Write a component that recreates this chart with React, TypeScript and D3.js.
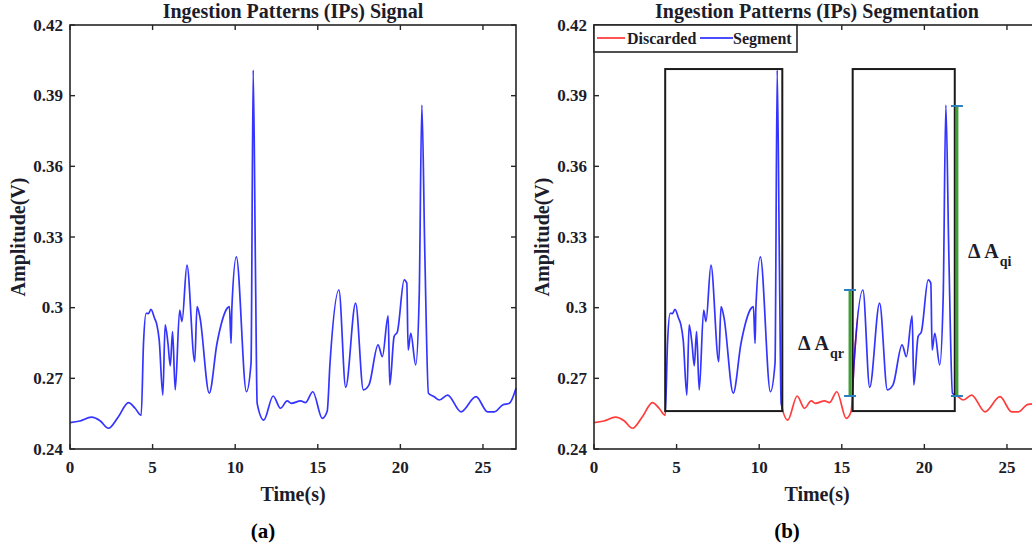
import React from "react";
import * as d3 from "d3";

// signal (seconds, volts)
const time = [
  0.0, 0.6, 1.3, 1.82, 2.33, 2.93, 3.54, 3.94, 4.31, 4.45, 4.61, 4.75, 4.9, 5.12, 5.26, 5.4,
  5.62, 5.76, 5.93, 6.07, 6.21, 6.37, 6.64, 6.78, 7.08, 7.55, 7.69, 7.86, 8.43, 8.9, 9.51,
  9.65, 9.75, 9.8, 10.07, 10.68, 10.96, 11.09, 11.23, 11.33, 11.73, 12.3, 12.74, 13.15,
  13.4, 13.96, 14.26, 14.7, 15.27, 15.57, 15.74, 16.28, 16.69, 17.29, 17.76, 18.1, 18.65,
  18.91, 19.26, 19.36, 19.62, 19.82, 20.23, 20.39, 20.47, 20.63, 20.93, 21.14, 21.3, 21.48,
  21.7, 22.05, 22.35, 22.86, 23.67, 24.58, 25.28, 25.69, 26.19, 26.6, 27.0,
];
const amplitude = [
  0.2512, 0.2519, 0.2535, 0.252, 0.2488, 0.2537, 0.2597, 0.2573, 0.2543, 0.2849, 0.2976,
  0.2975, 0.2993, 0.2955, 0.2927, 0.2863, 0.2629, 0.2927, 0.2849, 0.2753, 0.2898, 0.2651,
  0.299, 0.2941, 0.3181, 0.2771, 0.3004, 0.2962, 0.2637, 0.2849, 0.2997, 0.3005, 0.2849,
  0.3, 0.3216, 0.2643, 0.2765, 0.4009, 0.3146, 0.2594, 0.2523, 0.2625, 0.2573, 0.2604,
  0.2594, 0.2604, 0.2597, 0.2643, 0.253, 0.256, 0.2764, 0.3075, 0.2662, 0.3019, 0.2651,
  0.2672, 0.2842, 0.2792, 0.2965, 0.2672, 0.2877, 0.2898, 0.3118, 0.3104, 0.282, 0.2891,
  0.2757, 0.3047, 0.386, 0.3231, 0.2637, 0.2622, 0.2608, 0.2629, 0.2558, 0.2622, 0.2558,
  0.2558, 0.2587, 0.2594, 0.2658,
];

const xTicks = [0, 5, 10, 15, 20, 25];
const yTicks = [0.24, 0.27, 0.3, 0.33, 0.36, 0.39, 0.42];
const yTickLabels = ["0.24", "0.27", "0.3", "0.33", "0.36", "0.39", "0.42"];

// segmentation windows
const segStart = [4.31, 15.66];
const segEnd = [11.4, 21.84];
const segTop = 0.4013;
const segBottom = 0.2561;

// amplitude bars
const deltaT = [15.5, 21.97];
const deltaLow = [0.2625, 0.2625];
const deltaHigh = [0.3075, 0.3856];
const deltaSub = ["qr", "qi"];

const FONT = "'Liberation Serif', 'Times New Roman', serif";
const INK = "#1c1c2a";
const TOP = 25;
const BOTTOM = 449;
const PLOT_W = 446;

const points: [number, number][] = time.map((t, i) => [t, amplitude[i]]);

function Panel({ x0, title, tag, id, segmented }: { x0: number; title: string; tag: string; id: string; segmented: boolean }) {
  const x = d3.scaleLinear().domain([0, 27]).range([x0, x0 + PLOT_W]);
  const y = d3.scaleLinear().domain([0.24, 0.42]).range([BOTTOM, TOP]);
  const line = d3
    .line<[number, number]>()
    .x((d) => x(d[0]))
    .y((d) => y(d[1]))
    .curve(d3.curveMonotoneX);
  const path = line(points) || "";
  const x1 = x0 + PLOT_W;
  const cx = x0 + PLOT_W / 2;

  // gaps between windows for red line
  const redEdges = [0, ...segStart.flatMap((s, i) => [s, segEnd[i]]), 27];
  const redRanges: [number, number][] = [];
  for (let i = 0; i < redEdges.length; i += 2) redRanges.push([redEdges[i], redEdges[i + 1]]);

  return (
    <g>
      <defs>
        <clipPath id={id + "-red"}>
          {redRanges.map((r, i) => (
            <rect key={i} x={x(r[0]) - (i === 0 ? 5 : 0)} y={0} width={x(r[1]) - x(r[0]) + 5} height={550} />
          ))}
        </clipPath>
        <clipPath id={id + "-blue"}>
          {segStart.map((s, i) => (
            <rect key={i} x={x(s)} y={0} width={x(segEnd[i]) - x(s)} height={550} />
          ))}
        </clipPath>
      </defs>

      {segmented ? (
        <>
          <path d={path} fill="none" stroke="#ff1a1a" strokeWidth={1.7} strokeOpacity={0.85} clipPath={`url(#${id}-red)`} />
          <path d={path} fill="none" stroke="#1010ff" strokeWidth={1.7} strokeOpacity={0.85} clipPath={`url(#${id}-blue)`} />
        </>
      ) : (
        <path d={path} fill="none" stroke="#1010ff" strokeWidth={1.7} strokeOpacity={0.85} />
      )}

      {/* axes box */}
      <rect x={x0} y={TOP} width={PLOT_W} height={BOTTOM - TOP} fill="none" stroke="#262626" strokeWidth={1.6} />
      {xTicks.map((t) => (
        <g key={"x" + t}>
          <line x1={x(t)} x2={x(t)} y1={BOTTOM} y2={BOTTOM - 5} stroke="#262626" strokeWidth={1.4} />
          <line x1={x(t)} x2={x(t)} y1={TOP} y2={TOP + 5} stroke="#262626" strokeWidth={1.4} />
          <text x={x(t)} y={467} textAnchor="middle" dominantBaseline="central" fontFamily={FONT} fontWeight="bold" fontSize={17} fill={INK}>
            {t}
          </text>
        </g>
      ))}
      {yTicks.map((v, i) => (
        <g key={"y" + v}>
          <line x1={x0} x2={x0 + 5} y1={y(v)} y2={y(v)} stroke="#262626" strokeWidth={1.4} />
          <line x1={x1} x2={x1 - 5} y1={y(v)} y2={y(v)} stroke="#262626" strokeWidth={1.4} />
          <text x={x0 - 7} y={y(v)} textAnchor="end" dominantBaseline="central" fontFamily={FONT} fontWeight="bold" fontSize={17} fill={INK}>
            {yTickLabels[i]}
          </text>
        </g>
      ))}

      <text x={cx} y={18} textAnchor="middle" fontFamily={FONT} fontWeight="bold" fontSize={20} fill={INK}>
        {title}
      </text>
      <text x={cx} y={494} textAnchor="middle" dominantBaseline="central" fontFamily={FONT} fontWeight="bold" fontSize={20} fill={INK}>
        Time(s)
      </text>
      <text
        transform={`translate(${x0 - 52},${(TOP + BOTTOM) / 2}) rotate(-90)`}
        textAnchor="middle"
        dominantBaseline="central"
        fontFamily={FONT}
        fontWeight="bold"
        fontSize={20}
        fill={INK}
      >
        Amplitude(V)
      </text>
      <text x={cx - 30} y={531} textAnchor="middle" dominantBaseline="central" fontFamily={FONT} fontWeight="bold" fontSize={21} fill="#000">
        {tag}
      </text>

      {segmented && (
        <>
          {segStart.map((s, i) => (
            <rect
              key={"box" + i}
              x={x(s)}
              y={y(segTop)}
              width={x(segEnd[i]) - x(s)}
              height={y(segBottom) - y(segTop)}
              fill="none"
              stroke="#1a1a1a"
              strokeWidth={2}
            />
          ))}
          {deltaT.map((t, i) => (
            <g key={"d" + i}>
              <line x1={x(t)} x2={x(t)} y1={y(deltaLow[i])} y2={y(deltaHigh[i])} stroke="#3f9e35" strokeWidth={3} />
              <line x1={x(t) - 6} x2={x(t) + 6} y1={y(deltaLow[i])} y2={y(deltaLow[i])} stroke="#2a7fc0" strokeWidth={2} />
              <line x1={x(t) - 6} x2={x(t) + 6} y1={y(deltaHigh[i])} y2={y(deltaHigh[i])} stroke="#2a7fc0" strokeWidth={2} />
            </g>
          ))}
          {/* labels: left of first bar, right of second */}
          <text x={x(deltaT[0]) - 52} y={y((deltaLow[0] + deltaHigh[0]) / 2) + 7} fontFamily={FONT} fontWeight="bold" fontSize={20} fill={INK}>
            Δ A
            <tspan dx={1} dy={8} fontSize={14}>
              {deltaSub[0]}
            </tspan>
          </text>
          <text x={x(deltaT[1]) + 11} y={y((deltaLow[1] + deltaHigh[1]) / 2) + 7} fontFamily={FONT} fontWeight="bold" fontSize={20} fill={INK}>
            Δ A
            <tspan dx={1} dy={8} fontSize={14}>
              {deltaSub[1]}
            </tspan>
          </text>

          {/* legend */}
          <rect x={x0} y={TOP} width={203} height={27} fill="#fff" stroke="#262626" strokeWidth={1.6} />
          <line x1={x0 + 3} x2={x0 + 31} y1={TOP + 13} y2={TOP + 13} stroke="#ff1a1a" strokeWidth={1.5} />
          <text x={x0 + 33} y={TOP + 13} dominantBaseline="central" fontFamily={FONT} fontWeight="bold" fontSize={16} fill={INK}>
            Discarded
          </text>
          <line x1={x0 + 106} x2={x0 + 139} y1={TOP + 13} y2={TOP + 13} stroke="#1010ff" strokeWidth={1.5} />
          <text x={x0 + 139} y={TOP + 13} dominantBaseline="central" fontFamily={FONT} fontWeight="bold" fontSize={16} fill={INK}>
            Segment
          </text>
        </>
      )}
    </g>
  );
}

export default function App() {
  return (
    <div style={{ position: "absolute", left: 0, top: 0 }}>
      <svg width={1032} height={550} style={{ display: "block", background: "#fff" }}>
        <Panel x0={70} title="Ingestion Patterns (IPs) Signal" tag="(a)" id="pa" segmented={false} />
        <Panel x0={594} title="Ingestion Patterns (IPs) Segmentation" tag="(b)" id="pb" segmented={true} />
      </svg>
    </div>
  );
}
